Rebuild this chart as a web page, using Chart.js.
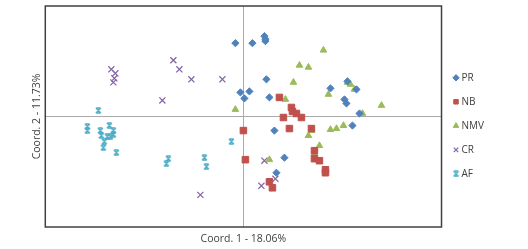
<!DOCTYPE html>
<html>
<head>
<meta charset="utf-8">
<script src="https://cdn.jsdelivr.net/npm/chart.js@4"></script>
<style>
  body { margin: 0; background: #fff; }
</style>
</head>
<body>
<canvas id="pcoa" width="528" height="249"></canvas>
<script>
// group names
const groups = ['PR', 'NB', 'NMV', 'CR', 'AF'];

// coordinates (Coord. 1, Coord. 2)
const prX = [-0.08, 0.09, 0.21, 0.22, 0.22, 0.23, -0.03, 0.06, 0.01, 0.26, 0.87, 1.04, 1.13, 1.01, 1.03, 1.16, 0.31, 1.09, 0.41, 0.33];
const prY = [0.73, 0.73, 0.80, 0.77, 0.75, 0.37, 0.24, 0.25, 0.18, 0.19, 0.28, 0.35, 0.27, 0.17, 0.13, 0.03, -0.14, -0.09, -0.41, -0.56];

const nbX = [0.36, 0.48, 0.49, 0.53, 0.58, 0.40, 0.46, 0.68, 0.00, 0.02, 0.71, 0.71, 0.76, 0.82, 0.82, 0.26, 0.29];
const nbY = [0.19, 0.09, 0.05, 0.03, -0.01, -0.01, -0.12, -0.12, -0.14, -0.43, -0.34, -0.42, -0.44, -0.53, -0.56, -0.65, -0.71];

const nmvX = [0.80, 0.56, 0.65, 0.50, 1.04, 1.07, 1.11, 0.85, 0.42, -0.08, 1.38, 1.19, 1.00, 0.93, 0.87, 0.68, 0.65, 0.76, 0.71, 0.26];
const nmvY = [0.66, 0.51, 0.49, 0.34, 0.34, 0.32, 0.27, 0.22, 0.17, 0.07, 0.11, 0.03, -0.09, -0.12, -0.13, -0.14, -0.19, -0.29, -0.37, -0.43];

const crX = [-1.32, -1.28, -1.29, -1.30, -0.70, -0.64, -0.52, -0.21, -0.81, 0.21, 0.32, 0.18, -0.43];
const crY = [0.47, 0.43, 0.38, 0.34, 0.56, 0.47, 0.37, 0.37, 0.16, -0.44, -0.62, -0.69, -0.78];

const afX = [-1.45, -1.56, -1.56, -1.43, -1.42, -1.34, -1.30, -1.30, -1.33, -1.36, -1.39, -1.40, -1.27, -0.12, -0.75, -0.77, -0.39, -0.37];
const afY = [0.06, -0.10, -0.14, -0.14, -0.19, -0.09, -0.14, -0.18, -0.20, -0.20, -0.25, -0.31, -0.36, -0.25, -0.42, -0.47, -0.41, -0.50];

const axisTitles = ['Coord. 1 - 18.06%', 'Coord. 2 - 11.73%'];

const colors = ['#4F81BD', '#C0504D', '#9BBB59', '#8064A2', '#4BACC6'];

function toPoints(xs, ys) {
  return xs.map((x, i) => ({ x: x, y: ys[i] }));
}

// excel-like star marker
function starMarker(size, color) {
  const c = document.createElement('canvas');
  c.width = size;
  c.height = size;
  const g = c.getContext('2d');
  g.strokeStyle = color;
  g.lineWidth = 1.3;
  const a = 1, b = size - 1;
  g.beginPath();
  g.moveTo(a, a); g.lineTo(b, b);
  g.moveTo(b, a); g.lineTo(a, b);
  g.moveTo(a + 0.5, a); g.lineTo(b - 0.5, a);
  g.moveTo(a + 0.5, b); g.lineTo(b - 0.5, b);
  g.stroke();
  return c;
}

const frame = {
  id: 'frame',
  afterDatasetsDraw(chart) {
    const { ctx, chartArea: a } = chart;
    ctx.save();
    ctx.strokeStyle = '#404040';
    ctx.lineWidth = 1.5;
    ctx.strokeRect(a.left, a.top, a.right - a.left, a.bottom - a.top);
    ctx.restore();
  }
};

const font = { family: "'Open Sans', sans-serif", size: 10.5 };

const zeroLine = (c) => c.tick.value === 0 ? '#aaaaaa' : 'rgba(0,0,0,0)';

const datasets = [
  { label: groups[0], data: toPoints(prX, prY), pointStyle: 'rectRot', pointRadius: 3.6, borderWidth: 1 },
  { label: groups[1], data: toPoints(nbX, nbY), pointStyle: 'rect', pointRadius: 4.6, borderWidth: 1 },
  { label: groups[2], data: toPoints(nmvX, nmvY), pointStyle: 'triangle', pointRadius: 3.8, borderWidth: 1 },
  { label: groups[3], data: toPoints(crX, crY), pointStyle: 'crossRot', pointRadius: 4.3, borderWidth: 1.2 },
  { label: groups[4], data: toPoints(afX, afY), pointStyle: starMarker(7, colors[4]), borderWidth: 1 }
];
datasets.forEach((d, i) => {
  d.backgroundColor = colors[i];
  d.borderColor = colors[i];
  d.pointHoverRadius = d.pointRadius;
});

const chart = new Chart(document.getElementById('pcoa'), {
  type: 'scatter',
  data: { datasets: datasets },
  options: {
    responsive: false,
    animation: false,
    layout: { padding: { left: 26.7, right: 34, top: 6, bottom: 3.4 } },
    plugins: {
      tooltip: { enabled: false },
      legend: {
        position: 'right',
        labels: {
          usePointStyle: true,
          boxWidth: 1,
          boxHeight: 4.5,
          padding: 14,
          color: '#404040',
          font: { family: "'Open Sans', sans-serif", size: 10 }
        }
      }
    },
    scales: {
      x: {
        min: -1.98,
        max: 1.98,
        ticks: { display: false, stepSize: 1 },
        grid: { color: zeroLine, drawTicks: false },
        border: { display: false },
        title: { display: true, text: axisTitles[0], color: '#404040', font: font, padding: { top: 6, bottom: 0 } }
      },
      y: {
        min: -1.1,
        max: 1.1,
        ticks: { display: false, stepSize: 1 },
        grid: { color: zeroLine, drawTicks: false },
        border: { display: false },
        title: { display: true, text: axisTitles[1], color: '#404040', font: font, padding: { top: 4, bottom: 2 } }
      }
    }
  },
  plugins: [frame]
});
</script>
</body>
</html>
